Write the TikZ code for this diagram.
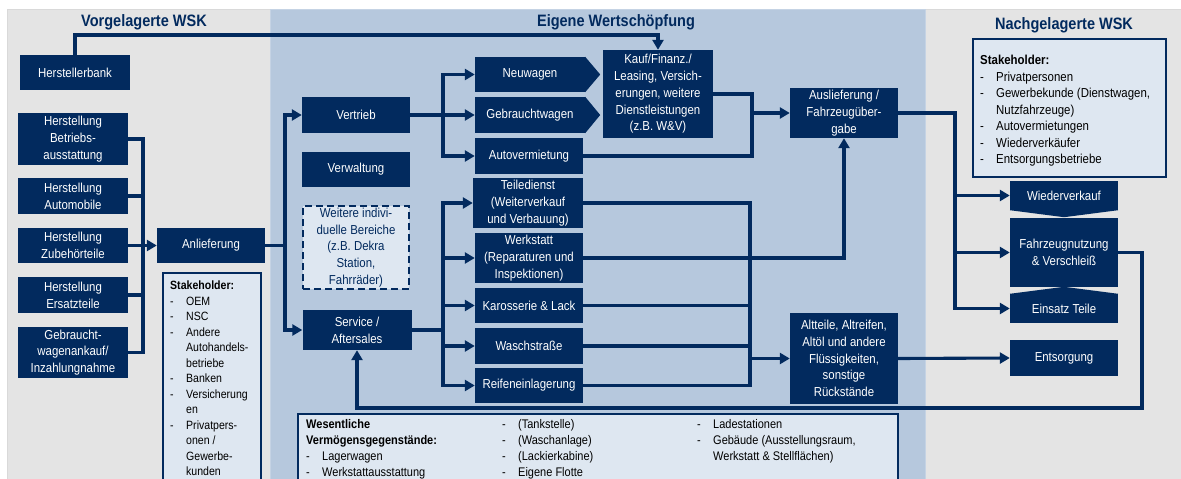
\documentclass[tikz,border=0pt]{standalone}
\usepackage{fontspec}
\setmainfont{Liberation Sans}[FakeStretch=0.88]
\usetikzlibrary{arrows.meta}

\definecolor{wsknavy}{RGB}{2,42,94}
\definecolor{wskblue}{RGB}{182,200,221}
\definecolor{wskgray}{RGB}{228,228,228}
\definecolor{wsklight}{RGB}{222,231,241}

\tikzset{
  box/.style={fill=wsknavy, text=white, align=center, inner sep=0pt,
    minimum width=108pt, font=\fontsize{13}{16.8}\selectfont},
  dashbox/.style={draw=wsknavy, line width=2.4pt, dash pattern=on 7pt off 4pt,
    fill=wsklight, text=wsknavy, align=center, inner sep=0pt,
    font=\fontsize{13}{16.8}\selectfont},
  lightbox/.style={draw=wsknavy, line width=1.8pt, fill=wsklight,
    anchor=north west, inner sep=0pt},
  listtext/.style={text=black, align=left, anchor=north west, inner sep=0pt},
  panelhead/.style={text=wsknavy, font=\fontsize{16.5}{18}\selectfont\bfseries},
  conn/.style={draw=wsknavy, line width=3.1pt},
}
\newcommand{\dashitem}[1]{\makebox[16pt][l]{-}#1}
\newcommand{\dashcont}[1]{\hspace*{16pt}#1}

\begin{document}
\begin{tikzpicture}[x=1pt, y=-1pt, >={Triangle[length=10pt,width=11pt]}]
  \useasboundingbox (0,0) rectangle (1181,479);
  % three panels
  \fill[white] (0,0) rectangle (1181,479);
  \filldraw[fill=wskgray, draw=white!85!black] (7,9) rectangle (270,485);
  \filldraw[fill=wskgray, draw=white!85!black] (925,9) rectangle (1185,485);
  \filldraw[fill=wskblue, draw=wskblue!80!white, line width=1pt] (270,9) rectangle (925,485);
  \node[panelhead] (hvor) at (144,22) {Vorgelagerte WSK};
  \node[panelhead] (heig) at (616,22) {Eigene Wertschöpfung};
  \node[panelhead] (hnach) at (1064,25) {Nachgelagerte WSK};

  % upstream suppliers
  \node[box, minimum width=110pt, minimum height=35pt] (bank) at (75,72.5) {Herstellerbank};
  \node[box, minimum width=110pt, minimum height=52pt] (hbetr) at (73,139) {Herstellung\\Betriebs-\\ausstattung};
  \node[box, minimum width=110pt, minimum height=36pt] (hauto) at (73,196) {Herstellung\\Automobile};
  \node[box, minimum width=110pt, minimum height=35pt] (hzub) at (73,245.5) {Herstellung\\Zubehörteile};
  \node[box, minimum width=110pt, minimum height=36pt] (hers) at (73,295) {Herstellung\\Ersatzteile};
  \node[box, minimum width=110pt, minimum height=51pt] (gwan) at (73,352.5) {Gebraucht-\\wagenankauf/\\Inzahlungnahme};
  \node[box, minimum height=35pt] (anl) at (211,245.5) {Anlieferung};
  \node[lightbox, minimum width=98pt, minimum height=220pt] (stakeL) at (162,272) {};
  \node[listtext, font=\fontsize{12}{15.5}\selectfont] (stakeLtxt) at (170,281)
    {\textbf{Stakeholder:}\\\dashitem{OEM}\\\dashitem{NSC}\\\dashitem{Andere}\\\dashcont{Autohandels-}\\\dashcont{betriebe}\\
     \dashitem{Banken}\\\dashitem{Versicherung}\\\dashcont{en}\\\dashitem{Privatpers-}\\\dashcont{onen /}\\\dashcont{Gewerbe-}\\\dashcont{kunden}};

  % own value creation
  \node[box, minimum height=36pt] (vertrieb) at (356,115) {Vertrieb};
  \node[box, minimum height=35pt] (verw) at (356,169.5) {Verwaltung};
  \node[dashbox, minimum width=106pt, minimum height=83pt] (weitere) at (356,247.5)
    {Weitere indivi-\\duelle Bereiche\\(z.B. Dekra\\Station,\\Fahrräder)};
  \node[box, minimum width=109pt, minimum height=40pt] (service) at (357,330) {Service /\\Aftersales};
  \node[box, minimum width=110pt, minimum height=35pt] (neu) at (530,74.5) {Neuwagen};
  \node[box, minimum width=110pt, minimum height=36pt] (gebr) at (530,115) {Gebrauchtwagen};
  \fill[wsknavy] (neu.north east) -- ([xshift=15pt]neu.east) -- (neu.south east) -- cycle;
  \fill[wsknavy] (gebr.north east) -- ([xshift=15pt]gebr.east) -- (gebr.south east) -- cycle;
  \node[box, minimum height=36pt] (autov) at (529,156) {Autovermietung};
  \node[box, minimum width=110pt, minimum height=88pt] (kauf) at (658,94)
    {Kauf/Finanz./\\Leasing, Versich-\\erungen, weitere\\Dienstleistungen\\(z.B. W\&V)};
  \node[box, minimum height=50pt] (auslief) at (844,113) {Auslieferung /\\Fahrzeugüber-\\gabe};
  \node[box, minimum width=110pt, minimum height=50pt] (teile) at (528,203) {Teiledienst\\(Weiterverkauf\\und Verbauung)};
  \node[box, minimum height=50pt] (werk) at (529,258) {Werkstatt\\(Reparaturen und\\Inspektionen)};
  \node[box, minimum height=35pt] (karo) at (529,305.5) {Karosserie \& Lack};
  \node[box, minimum height=36pt] (wasch) at (529,346) {Waschstraße};
  \node[box, minimum height=35pt] (reifen) at (529,385.5) {Reifeneinlagerung};
  \node[box, minimum height=91pt] (altteile) at (844,358.5)
    {Altteile, Altreifen,\\Altöl und andere\\Flüssigkeiten,\\sonstige\\Rückstände};
  \node[lightbox, minimum width=600pt, minimum height=80pt] (assets) at (297,413) {};
  \node[listtext, font=\fontsize{12.5}{16}\selectfont] (assetsA) at (306,419.5)
    {\textbf{Wesentliche}\\\textbf{Vermögensgegenstände:}\\\dashitem{Lagerwagen}\\\dashitem{Werkstattausstattung}};
  \node[listtext, font=\fontsize{12.5}{16}\selectfont] (assetsB) at (502,419.5)
    {\dashitem{(Tankstelle)}\\\dashitem{(Waschanlage)}\\\dashitem{(Lackierkabine)}\\\dashitem{Eigene Flotte}};
  \node[listtext, font=\fontsize{12.5}{16}\selectfont] (assetsC) at (697,419.5)
    {\dashitem{Ladestationen}\\\dashitem{Gebäude (Ausstellungsraum,}\\\dashcont{Werkstatt \& Stellflächen)}};

  % downstream
  \node[lightbox, minimum width=193pt, minimum height=138pt] (stakeR) at (972,38) {};
  \node[listtext, font=\fontsize{13}{16.5}\selectfont] (stakeRtxt) at (980,55)
    {\textbf{Stakeholder:}\\\dashitem{Privatpersonen}\\\dashitem{Gewerbekunde (Dienstwagen,}\\\dashcont{Nutzfahrzeuge)}\\
     \dashitem{Autovermietungen}\\\dashitem{Wiederverkäufer}\\\dashitem{Entsorgungsbetriebe}};
  \node[box, minimum height=29pt] (wv) at (1064,195.5) {Wiederverkauf};
  \fill[wsknavy] (wv.south west) -- ([yshift=-7pt]wv.south) -- (wv.south east) -- cycle;
  \node[box, minimum height=69pt] (fn) at (1064,252.5) {Fahrzeugnutzung\\\& Verschleiß};
  \node[box, minimum height=29pt] (et) at (1064,308.5) {Einsatz Teile};
  \fill[wsknavy] (et.north west) -- ([yshift=7pt]et.north) -- (et.north east) -- cycle;
  \node[box, minimum height=36pt] (entsorg) at (1064,358) {Entsorgung};

  % bus lines
  \coordinate (topline) at (0,35);
  \coordinate (lbus) at (143,0);
  \coordinate (abus) at (285,0);
  \coordinate (vbus) at (443,0);
  \coordinate (kbus) at (752,0);
  \coordinate (rbus) at (750,0);
  \coordinate (nbus) at (955,0);
  \coordinate (fbus) at (1142,408);

  \draw[conn,->] (bank.north) -- (bank.north |- topline) -| (kauf.north); % bank financing
  \draw[conn] (hbetr.east) -| (lbus |- gwan.east) -- (gwan.east);
  \draw[conn] (hauto.east) -- (hauto.east -| lbus);
  \draw[conn] (hers.east) -- (hers.east -| lbus);
  \draw[conn,->] (hzub.east) -- (anl.west);
  \draw[conn,->] (anl.east) -- (anl.east -| abus) |- (vertrieb.west);
  \draw[conn,->] (anl.east -| abus) |- (service.west);

  \draw[conn,->] (vertrieb.east) -- (gebr.west);
  \foreach \t in {neu,autov}
    \draw[conn,->] (vertrieb.east -| vbus) |- (\t.west);
  \draw[conn] (kauf.east) -| (kbus |- autov.east) -- (autov.east);
  \draw[conn,->] (kbus |- auslief.west) -- (auslief.west);

  \draw[conn] (service.east) -- (service.east -| vbus);
  \foreach \t in {teile,werk,karo,wasch,reifen}
    \draw[conn,->] (service.east -| vbus) |- (\t.west);
  \draw[conn] (teile.east) -| (rbus |- reifen.east) -- (reifen.east);
  \foreach \t in {karo,wasch}
    \draw[conn] (\t.east) -- (\t.east -| rbus);
  \draw[conn,->] (rbus |- altteile.west) -- (altteile.west);
  \draw[conn,->] (werk.east) -| (auslief.south);

  \draw[conn] (auslief.east) -| (nbus |- et.west);
  \foreach \t in {wv,fn,et}
    \draw[conn,->] (auslief.east -| nbus) |- (\t.west);
  \draw[conn,->] (altteile.east) -- (entsorg.west);
  \draw[conn,->] (fn.east) -| (fbus) -| (service.south); % wear back to service
\end{tikzpicture}
\end{document}
